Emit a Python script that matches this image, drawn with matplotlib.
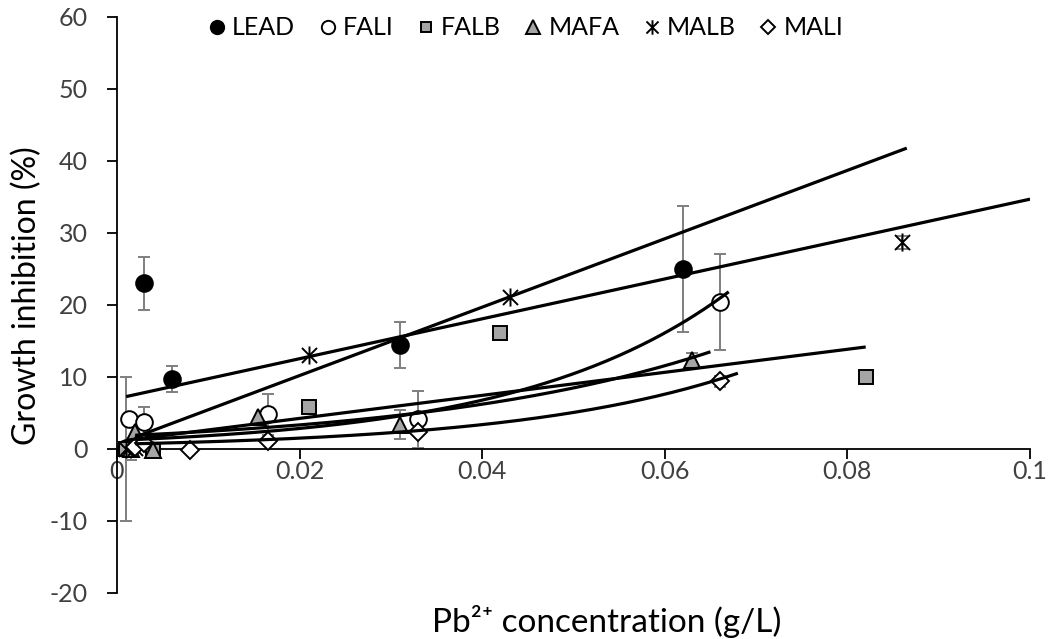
import matplotlib
matplotlib.use("Agg")
import matplotlib.pyplot as plt
import numpy as np
from matplotlib.path import Path

plt.rcParams["font.family"] = ["Lato", "DejaVu Sans"]
plt.rcParams["axes.unicode_minus"] = False

# measured points (x in g/L, y in %, symmetric error)
lead_x = [0.001, 0.003, 0.006, 0.031, 0.062]
lead_y = [0.2, 23.0, 9.7, 14.5, 25.0]
lead_e = [0.0, 3.7, 1.8, 3.2, 8.8]

fali_x = [0.0013, 0.003, 0.0165, 0.033, 0.066]
fali_y = [4.2, 3.8, 4.8, 4.1, 20.4]
fali_e = [0.0, 2.0, 2.8, 4.0, 6.7]

falb_x = [0.001, 0.004, 0.021, 0.042, 0.082]
falb_y = [0.0, -0.3, 5.9, 16.1, 10.0]
falb_e = [10.0, 0.0, 0.0, 0.0, 0.0]

mafa_x = [0.0015, 0.002, 0.004, 0.0155, 0.031, 0.063]
mafa_y = [0.0, 2.3, -0.2, 4.4, 3.4, 12.3]
mafa_e = [1.5, 0.0, 0.0, 0.0, 2.0, 1.0]

malb_x = [0.001, 0.002, 0.021, 0.043, 0.086]
malb_y = [0.0, 0.2, 13.1, 21.1, 28.7]
malb_e = [0.0, 0.0, 0.0, 0.0, 0.9]

mali_x = [0.002, 0.003, 0.008, 0.0165, 0.033, 0.066]
mali_y = [0.3, 0.8, -0.2, 1.1, 2.3, 9.4]
mali_e = [0.0, 0.0, 0.0, 0.0, 0.0, 0.8]

# trendlines: (kind, a, b, x_start, x_end)
#   linear: y = a + b*x     exponential: y = a*exp(b*x)
lead_trend = ("lin", 7.0, 277.0, 0.001, 0.1)
fali_trend = ("exp", 1.2, 43.3, 0.002, 0.067)
falb_trend = ("lin", 1.05, 160.0, 0.001, 0.082)
mafa_trend = ("exp", 1.8, 31.0, 0.002, 0.065)
malb_trend = ("lin", 0.7, 475.0, 0.002, 0.0865)
mali_trend = ("exp", 0.67, 40.5, 0.002, 0.068)

# Excel-style asterisk: an X with a vertical stroke
star = Path(
    [(-1, -1), (1, 1), (-1, 1), (1, -1), (0, -1.2), (0, 1.2)],
    [Path.MOVETO, Path.LINETO, Path.MOVETO, Path.LINETO, Path.MOVETO, Path.LINETO],
)

GREY = "#a5a5a5"
series = [
    ("LEAD", lead_x, lead_y, lead_e, lead_trend, dict(marker="o", ms=12, mfc="black", mec="black")),
    ("FALI", fali_x, fali_y, fali_e, fali_trend, dict(marker="o", ms=12, mfc="white", mec="black")),
    ("FALB", falb_x, falb_y, falb_e, falb_trend, dict(marker="s", ms=9.5, mfc=GREY, mec="black")),
    ("MAFA", mafa_x, mafa_y, mafa_e, mafa_trend, dict(marker="^", ms=12, mfc=GREY, mec="black")),
    ("MALB", malb_x, malb_y, malb_e, malb_trend, dict(marker=star, ms=13, mfc="none", mec="black")),
    ("MALI", mali_x, mali_y, mali_e, mali_trend, dict(marker="D", ms=9.5, mfc="white", mec="black")),
]

fig = plt.figure(figsize=(10.5, 6.39), dpi=100)
ax = fig.add_axes([0.1114, 0.072, 0.8696, 0.9014])

handles = []
for name, xs, ys, es, trend, style in series:
    xs = np.asarray(xs)
    ys = np.asarray(ys)
    es = np.asarray(es)
    has = es > 0
    if has.any():
        ax.errorbar(xs[has], ys[has], yerr=es[has], fmt="none", ecolor="#7f7f7f",
                    elinewidth=1.4, capsize=4.5, capthick=1.4, zorder=2)
    h, = ax.plot(xs, ys, linestyle="none", mew=1.4, zorder=3, label=name, **style)
    handles.append(h)

    kind, a, b, x0, x1 = trend
    tx = np.linspace(x0, x1, 200)
    ty = a + b * tx if kind == "lin" else a * np.exp(b * tx)
    ax.plot(tx, ty, color="black", lw=2.3, zorder=4, solid_capstyle="butt")

ax.set_xlim(0, 0.1)
ax.set_ylim(-20, 60)
ax.set_xticks(np.arange(0, 0.101, 0.02))
ax.set_xticklabels(["0", "0.02", "0.04", "0.06", "0.08", "0.1"])
ax.set_yticks(range(-20, 61, 10))

ax.spines["top"].set_visible(False)
ax.spines["right"].set_visible(False)
ax.spines["bottom"].set_position(("data", 0))
for sp in ("left", "bottom"):
    ax.spines[sp].set_linewidth(1.3)
ax.tick_params(axis="both", direction="out", length=7, width=1.3,
               labelsize=18, labelcolor="#404040")
ax.tick_params(axis="x", pad=1)
ax.tick_params(axis="y", pad=14)

fig.text(0.578, 0.027, "Pb²⁺ concentration (g/L)", ha="center", va="center",
         fontsize=24)
fig.text(0.026, 0.538, "Growth inhibition (%)", ha="center", va="center",
         rotation=90, fontsize=23)

leg = ax.legend(handles=handles, loc="upper center", bbox_to_anchor=(0.447, 1.04),
                ncol=6, frameon=False, fontsize=18, handlelength=0.8,
                handletextpad=0.2, columnspacing=0.9, markerscale=0.8)

fig.savefig("out.png", dpi=100)
